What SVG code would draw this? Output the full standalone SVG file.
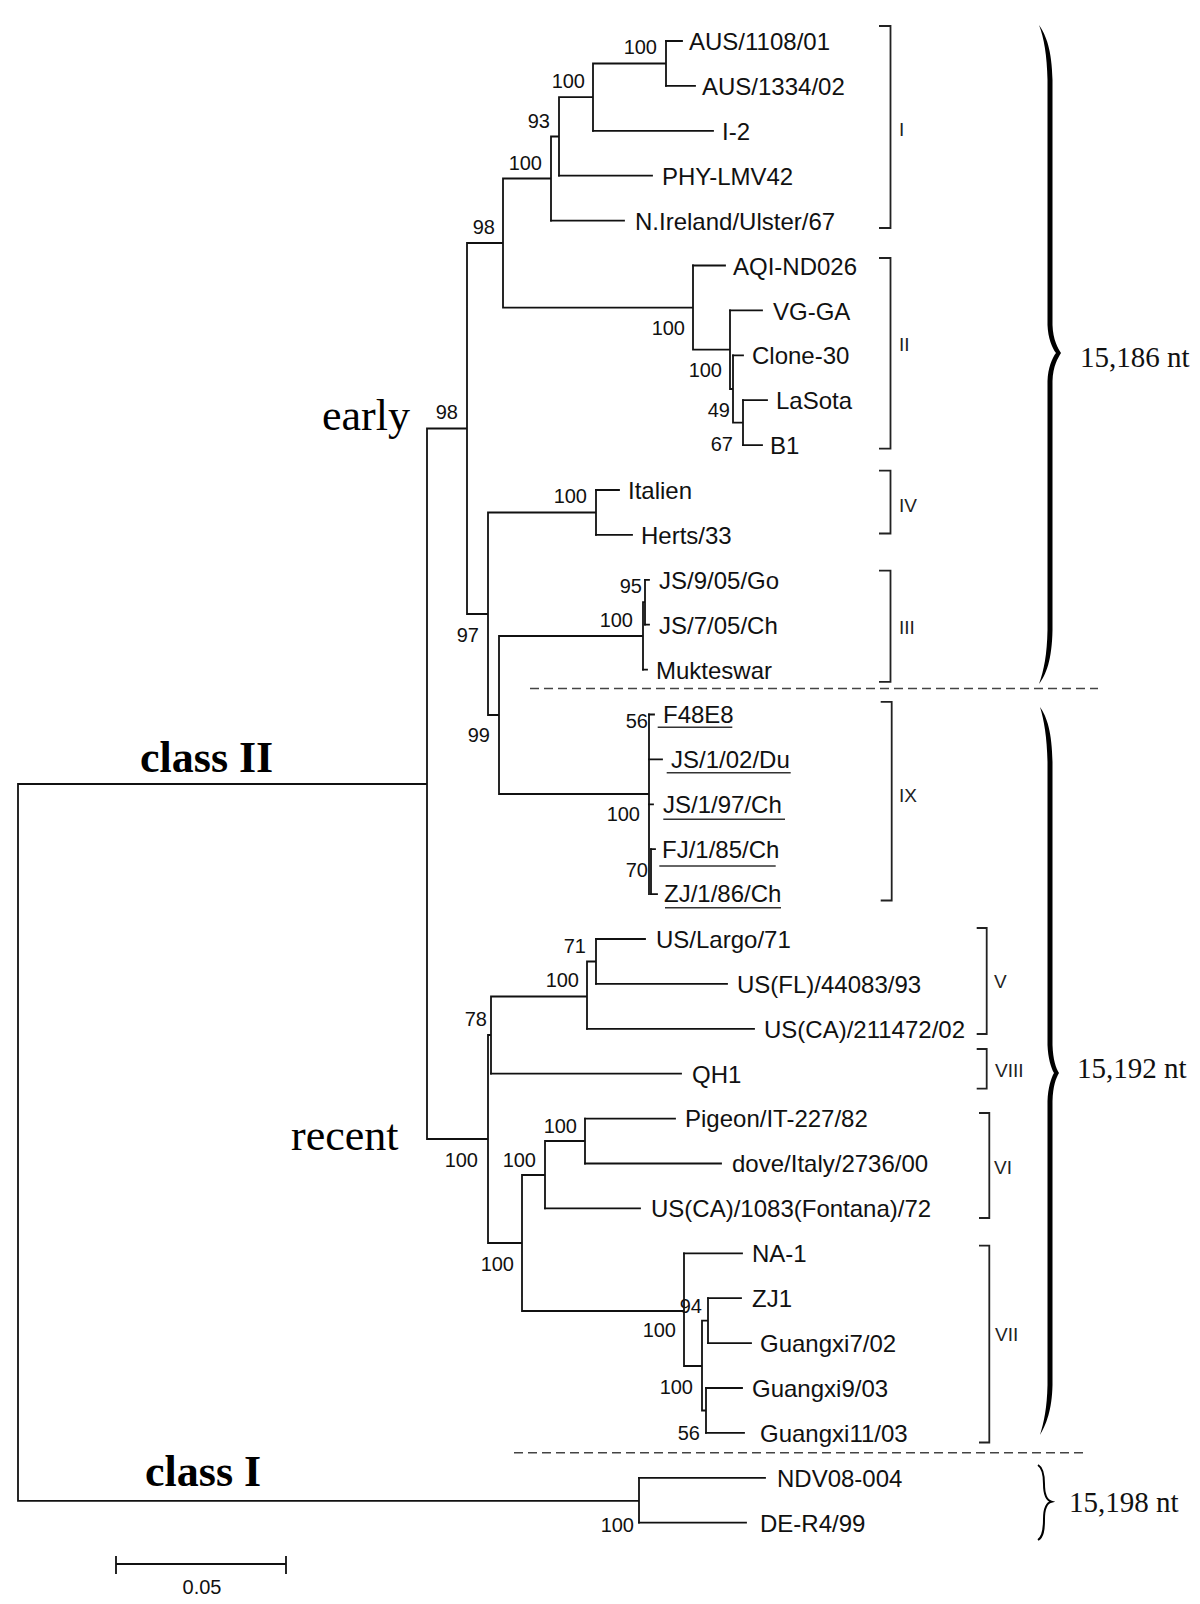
<svg xmlns="http://www.w3.org/2000/svg" width="1200" height="1604" viewBox="0 0 1200 1604">
<style>
.ln{fill:none;stroke:#111;stroke-width:1.8;stroke-linecap:square}
.ul{fill:none;stroke:#333;stroke-width:1.5}
.br{fill:none;stroke:#222;stroke-width:1.8}
.ds{fill:none;stroke:#444;stroke-width:1.6;stroke-dasharray:9 5}
.lf{font-family:"Liberation Sans",Arial,sans-serif;font-size:24px;fill:#111}
.bs{font-family:"Liberation Sans",Arial,sans-serif;font-size:20px;fill:#111;text-anchor:end}
.gp{font-family:"Liberation Sans",Arial,sans-serif;font-size:19px;fill:#222}
.big{font-family:"Liberation Serif","Times New Roman",serif;font-size:44px;fill:#000}
.cls{font-family:"Liberation Serif","Times New Roman",serif;font-size:44px;font-weight:bold;fill:#000}
.nt{font-family:"Liberation Serif","Times New Roman",serif;font-size:29px;fill:#111}
</style>
<rect width="1200" height="1604" fill="#fff"/>
<g id="connectors">
<path class="ln" d="M666 41H682M666 85.9H695M593 130.8H713M559 175.7H652M551 220.6H624M693 265.5H725M730 310.4H762M733 355.3H743M743 400.2H767M743 445.1H762M596 490H619M596 534.9H632M645 579.8H649M645 624.7H649M643 669.6H647M649 714.5H654M649 759.4H662M649 804.3H653M651 849.2H655M651 894.1H657M596 939H645M596 983.9H727M587 1028.8H754M491 1073.7H681M585 1118.6H675M585 1163.5H721M545 1208.4H640M684 1253.3H742M708 1298.2H741M708 1343.1H751M706 1388H742M706 1432.9H744M639 1477.8H765M639 1522.7H746"/>
<path class="ln" d="M666 41V85.9M593 63.5H666M593 63.5V130.8M559 97.2H593M559 97.2V175.7M551 136.5H559M551 136.5V220.6M503 178.5H551M743 400.2V445.1M733 422.7H743M733 355.3V422.7M730 389H733M730 310.4V389M693 349.7H730M693 265.5V349.7M503 307.6H693M503 178.5V307.6M467 243H503M596 490V534.9M488 512.5H596M645 579.8V624.7M643 602.2H645M643 602.2V669.6M499 636H643M649 714.5V894.1M651 849.2V894.1M499 794H649M499 636V794M488 715H499M488 512.5V715M467 614H488M467 243V614M427 428.5H467M427 428.5V1139M18 784H427M18 784V1500.8M18 1500.8H639M639 1477.8V1522.7M427 1139H488M488 1035V1243M491 996.5V1073.7M488 1035H491M587 961.5V1028.8M491 996.5H587M596 939V983.9M587 961.5H596M585 1118.6V1163.5M545 1141H585M545 1141V1208.4M522 1175H545M522 1175V1311M488 1243H522M684 1253.3V1366M522 1311H684M702 1320.7V1410.5M684 1366H702M708 1298.2V1343.1M702 1320.7H708M706 1388V1432.9M702 1410.5H706"/>
<path class="ds" d="M530 688.5H1098M514 1452.7H1083"/>
</g>
<g id="leaves">
<g id="n-aus1108"><text class="lf" x="689" y="49.5">AUS/1108/01</text></g>
<g id="n-aus1334"><text class="lf" x="702" y="94.5">AUS/1334/02</text></g>
<g id="n-i2"><text class="lf" x="722" y="139.5">I-2</text></g>
<g id="n-phy"><text class="lf" x="662" y="184.5">PHY-LMV42</text></g>
<g id="n-nireland"><text class="lf" x="635" y="229.5">N.Ireland/Ulster/67</text></g>
<g id="n-aqi"><text class="lf" x="733" y="274.5">AQI-ND026</text></g>
<g id="n-vgga"><text class="lf" x="773" y="319.5">VG-GA</text></g>
<g id="n-clone30"><text class="lf" x="752" y="363.5">Clone-30</text></g>
<g id="n-lasota"><text class="lf" x="776" y="408.5">LaSota</text></g>
<g id="n-b1"><text class="lf" x="770" y="453.5">B1</text></g>
<g id="n-italien"><text class="lf" x="628" y="498.5">Italien</text></g>
<g id="n-herts"><text class="lf" x="641" y="543.5">Herts/33</text></g>
<g id="n-js905"><text class="lf" x="659" y="588.5">JS/9/05/Go</text></g>
<g id="n-js705"><text class="lf" x="659" y="633.5">JS/7/05/Ch</text></g>
<g id="n-mukteswar"><text class="lf" x="656" y="678.5">Mukteswar</text></g>
<g id="n-f48e8"><text class="lf" x="663" y="723">F48E8</text><path class="ul" d="M657.7 727.3H732.3"/></g>
<g id="n-js102"><text class="lf" x="671" y="768">JS/1/02/Du</text><path class="ul" d="M666.7 772.7H790.7"/></g>
<g id="n-js197"><text class="lf" x="663" y="812.5">JS/1/97/Ch</text><path class="ul" d="M663.3 819.3H785"/></g>
<g id="n-fj185"><text class="lf" x="662" y="857.5">FJ/1/85/Ch</text><path class="ul" d="M659.3 866H775.7"/></g>
<g id="n-zj186"><text class="lf" x="664" y="902">ZJ/1/86/Ch</text><path class="ul" d="M665 907.7H781"/></g>
<g id="n-largo"><text class="lf" x="656" y="947.5">US/Largo/71</text></g>
<g id="n-usfl"><text class="lf" x="737" y="992.5">US(FL)/44083/93</text></g>
<g id="n-usca211"><text class="lf" x="764" y="1037.5">US(CA)/211472/02</text></g>
<g id="n-qh1"><text class="lf" x="692" y="1082.5">QH1</text></g>
<g id="n-pigeon"><text class="lf" x="685" y="1127">Pigeon/IT-227/82</text></g>
<g id="n-dove"><text class="lf" x="732" y="1172">dove/Italy/2736/00</text></g>
<g id="n-fontana"><text class="lf" x="651" y="1217">US(CA)/1083(Fontana)/72</text></g>
<g id="n-na1"><text class="lf" x="752" y="1262">NA-1</text></g>
<g id="n-zj1"><text class="lf" x="752" y="1307">ZJ1</text></g>
<g id="n-gx702"><text class="lf" x="760" y="1351.5">Guangxi7/02</text></g>
<g id="n-gx903"><text class="lf" x="752" y="1396.5">Guangxi9/03</text></g>
<g id="n-gx1103"><text class="lf" x="760" y="1441.5">Guangxi11/03</text></g>
<g id="n-ndv08"><text class="lf" x="777" y="1486.5">NDV08-004</text></g>
<g id="n-der4"><text class="lf" x="760" y="1531.5">DE-R4/99</text></g>
</g>
<g id="bootstrap">
<text class="bs" x="657" y="54">100</text>
<text class="bs" x="585" y="88">100</text>
<text class="bs" x="550" y="128">93</text>
<text class="bs" x="542" y="170">100</text>
<text class="bs" x="495" y="234">98</text>
<text class="bs" x="685" y="335">100</text>
<text class="bs" x="722" y="377">100</text>
<text class="bs" x="730" y="417">49</text>
<text class="bs" x="733" y="451">67</text>
<text class="bs" x="458" y="419">98</text>
<text class="bs" x="587" y="503">100</text>
<text class="bs" x="479" y="642">97</text>
<text class="bs" x="642" y="593">95</text>
<text class="bs" x="633" y="627">100</text>
<text class="bs" x="490" y="742">99</text>
<text class="bs" x="648" y="728">56</text>
<text class="bs" x="640" y="821">100</text>
<text class="bs" x="648" y="877">70</text>
<text class="bs" x="586" y="953">71</text>
<text class="bs" x="579" y="987">100</text>
<text class="bs" x="487" y="1026">78</text>
<text class="bs" x="577" y="1133">100</text>
<text class="bs" x="478" y="1167">100</text>
<text class="bs" x="536" y="1167">100</text>
<text class="bs" x="514" y="1271">100</text>
<text class="bs" x="702" y="1313">94</text>
<text class="bs" x="676" y="1337">100</text>
<text class="bs" x="693" y="1394">100</text>
<text class="bs" x="700" y="1440">56</text>
<text class="bs" x="634" y="1532">100</text>
</g>
<g id="genotypes">
<g id="g-I"><path class="br" d="M879 26H890.5V228H879"/><text class="gp" x="899" y="135.5">I</text></g>
<g id="g-II"><path class="br" d="M879 258H890.5V448.6H879"/><text class="gp" x="899" y="350.5">II</text></g>
<g id="g-IV"><path class="br" d="M879 470.6H890.5V533.5H879"/><text class="gp" x="899" y="511.5">IV</text></g>
<g id="g-III"><path class="br" d="M879 570.7H890.5V681.8H879"/><text class="gp" x="899" y="633.5">III</text></g>
<g id="g-IX"><path class="br" d="M880.7 701.8H891.7V900.5H880.7"/><text class="gp" x="899" y="801.5">IX</text></g>
<g id="g-V"><path class="br" d="M976.7 928H986.7V1034H976.7"/><text class="gp" x="994" y="987.5">V</text></g>
<g id="g-VIII"><path class="br" d="M976.7 1049H986.7V1088.6H976.7"/><text class="gp" x="995" y="1076.5">VIII</text></g>
<g id="g-VI"><path class="br" d="M979 1113H989.3V1218H979"/><text class="gp" x="994" y="1173.5">VI</text></g>
<g id="g-VII"><path class="br" d="M979 1245.7H989.3V1442.5H979"/><text class="gp" x="995" y="1340.5">VII</text></g>
</g>
<g id="braces">
<path fill="#000" d="M1039 25C1046 35 1052 50 1052.5 80L1052.5 325C1053 340 1058 348 1061 353C1058 358 1053 366 1052.5 381L1052.5 630C1052 660 1046 675 1039 684C1044 670 1047 655 1047.5 630L1047.5 381C1048 368 1052 358 1056 353C1052 348 1048 338 1047.5 325L1047.5 80C1047 55 1044 38 1039 25Z"/>
<path fill="#000" d="M1040 707C1047 717 1052 732 1052.5 762L1052.5 1045C1053 1060 1056 1068 1059 1073C1056 1078 1053 1086 1052.5 1101L1052.5 1385C1052 1410 1046 1425 1040 1435C1044 1422 1047 1408 1047.5 1385L1047.5 1101C1048 1088 1051 1078 1054 1073C1051 1068 1048 1058 1047.5 1045L1047.5 762C1047 737 1044 720 1040 707Z"/>
<path fill="none" stroke="#000" stroke-width="2" d="M1038 1465C1043 1468 1044 1475 1044 1484C1044 1494 1046 1500 1051.5 1501.7C1046 1503 1044 1509 1044 1519C1044 1530 1043 1537 1038 1540"/>
<text class="nt" x="1080" y="367">15,186 nt</text>
<text class="nt" x="1077" y="1078">15,192 nt</text>
<text class="nt" x="1069" y="1512">15,198 nt</text>
</g>
<g id="labels">
<text class="big" x="322" y="430">early</text>
<text class="big" x="291" y="1150">recent</text>
<text class="cls" x="140" y="772">class II</text>
<text class="cls" x="145" y="1486">class I</text>
</g>
<g id="scalebar">
<path class="ln" d="M116 1564H286M116 1557V1573M286 1557V1573"/>
<text class="bs" x="202" y="1594" style="text-anchor:middle">0.05</text>
</g>
</svg>
